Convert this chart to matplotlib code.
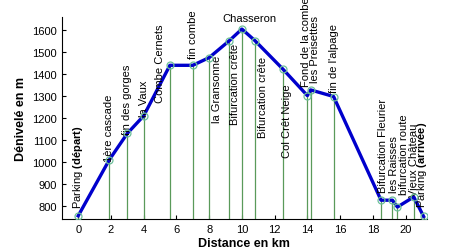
import matplotlib.pyplot as plt

plt.rcParams['font.family'] = ['Liberation Sans', 'DejaVu Sans']
plt.rcParams['mathtext.fontset'] = 'custom'
plt.rcParams['mathtext.rm'] = 'Liberation Sans'
plt.rcParams['mathtext.bf'] = 'Liberation Sans:bold'

# Profil de la randonnée (distance en km, altitude en m)
distance = [0, 1.9, 3.0, 4.0, 5.6, 7.0, 8.0, 9.2, 10.0, 10.8, 12.5,
            14.0, 14.2, 15.6, 18.5, 19.2, 19.5, 20.5, 21.1]
altitude = [755, 1010, 1130, 1210, 1440, 1440, 1475, 1550, 1605, 1552, 1423,
            1302, 1328, 1298, 826, 826, 795, 841, 752]
noms = ['Parking $\\bf{(départ)}$', '1ère cascade', 'fin des gorges', 'la Vaux',
        'Combe Cernets', 'fin combe', 'la Gransonne', 'Bifurcation crête',
        'Chasseron', 'Bifurcation crête', 'Col Crêt Neige', 'Fond de la combe',
        'les Preisettes', "fin de l'alpage", 'Bifurcation Fleurier',
        'les Raisses', 'bifurcation route', 'Vieux Château',
        'Parking $\\bf{(arrivée)}$']
# position des étiquettes (début du texte)
label_y = [792, 1005, 1128, 1210, 1272, 1472, 1181, 1172, 1655, 1113, 1022,
           1345, 1363, 1320, 862, 862, 853, 844, 794]
label_dx = [0, 0, 0, 0, -0.6, 0, 0.5, 0.4, 0.45, 0.5, 0.27,
            -0.1, 0.25, 0, 0.12, 0.1, 0.4, 0.0, -0.1]

ymin, ymax = 740, 1660

fig = plt.figure(figsize=(4.65, 2.53), dpi=100)
ax = fig.add_axes([0.133, 0.13, 0.785, 0.799])

ax.vlines(distance, ymin, altitude, color='#5a9a5a', linewidth=0.9)
ax.plot(distance, altitude, color='#0000cc', linewidth=2.4, zorder=3)
ax.plot(distance, altitude, linestyle='none', marker='o', markersize=5,
        markerfacecolor='none', markeredgecolor='#6cbf9a', markeredgewidth=0.9, zorder=4)

for x, ly, dx, nom in zip(distance, label_y, label_dx, noms):
    if nom == 'Chasseron':
        ax.text(x + dx, ly, nom, fontsize=8, ha='center', va='center')
    else:
        ax.text(x + dx, ly, nom, fontsize=8, rotation=90, rotation_mode='anchor',
                ha='left', va='center')

ax.set_xlim(-1, 21.3)
ax.set_ylim(ymin, ymax)
ax.set_xticks(range(0, 21, 2))
ax.set_yticks(range(800, 1601, 100))
ax.tick_params(direction='in', labelsize=8, length=3)
ax.spines['top'].set_visible(False)
ax.spines['right'].set_visible(False)
ax.set_xlabel('Distance en km', fontsize=9, fontweight='bold', labelpad=2)
ax.set_ylabel('Dénivelé en m', fontsize=9, fontweight='bold', labelpad=4)

fig.savefig('out.png', dpi=100)
